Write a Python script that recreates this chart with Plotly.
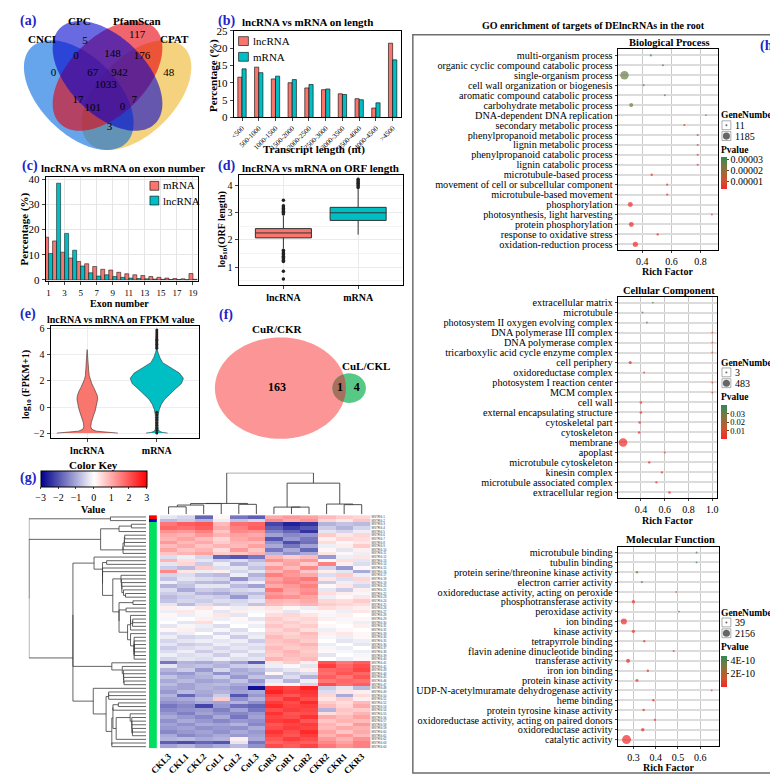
import numpy as np
import plotly.graph_objects as go

W, H = 778, 777
FONT = "Liberation Serif"
SALMON = "#F8766D"
TEAL = "#00BFC4"
LETTER = "#2323C8"

# ---------------- data ----------------
# (a) four-way Venn of coding-potential tools
venn4_sets = ["CNCI", "CPC", "PfamScan", "CPAT"]
venn4_regions = ["CNCI", "CPC", "PfamScan", "CPAT", "CNCI&CPC", "CPC&PfamScan",
                 "PfamScan&CPAT", "CNCI&CPC&PfamScan", "CPC&PfamScan&CPAT", "all",
                 "CNCI&PfamScan", "CPC&CPAT", "CNCI&PfamScan&CPAT", "CNCI&CPC&CPAT", "CNCI&CPAT"]
venn4_counts = [0, 5, 117, 48, 0, 148, 176, 67, 942, 1033, 17, 7, 101, 0, 3]

# (b) transcript length distribution (%)
length_bins = ["<500", "500-1000", "1000-1500", "1500-2000", "2000-2500", "2500-3000",
               "3000-3500", "3500-4000", "4000-4500", ">4500"]
length_lncRNA = [11.6, 14.5, 11.1, 10.0, 8.5, 8.0, 6.8, 5.4, 2.7, 21.4]
length_mRNA = [14.0, 12.9, 11.9, 10.9, 9.5, 8.2, 6.6, 5.1, 4.2, 16.6]

# (c) exon number distribution (%)
exon_numbers = list(range(1, 20))
exon_mRNA = [17.0, 15.5, 11.0, 8.7, 7.3, 6.4, 5.3, 4.2, 3.9, 3.0, 2.4, 2.0, 1.7, 1.3, 1.0, 0.7, 0.5, 0.4, 2.5]
exon_lncRNA = [10.5, 38.5, 18.5, 11.8, 5.5, 2.8, 1.5, 2.0, 1.3, 1.0, 0.7, 0.5, 0.4, 0.3, 0.2, 0.1, 0.1, 0.05, 0.2]

# (d) ORF length (log10) box statistics
orf_groups = ["lncRNA", "mRNA"]
orf_q1 = [2.07, 2.71]
orf_median = [2.25, 2.99]
orf_q3 = [2.41, 3.19]
orf_lower = [1.68, 2.19]
orf_upper = [2.87, 3.86]
orf_outliers_lncRNA = [2.95, 3.0, 3.05, 3.1, 3.15, 3.2, 3.25, 3.45, 1.62, 1.55, 1.5, 1.45,
                       1.4, 1.35, 1.3, 1.25, 1.2, 0.85, 0.56]
orf_outliers_mRNA = [3.92, 3.97, 4.02, 4.07, 4.12, 4.17, 4.22]

# (e) FPKM violins: density profile (level, half width in x units) + inner boxes
fpkm_lnc_levels = [-2.0, -1.95, -1.85, -1.7, -1.5, -1.2, -0.9, -0.6, -0.3, 0.0, 0.3, 0.6,
                   0.9, 1.2, 1.5, 1.8, 2.1, 2.4, 2.7, 3.0, 3.5, 4.0, 4.4]
fpkm_lnc_halfwidth = [0.44, 0.28, 0.128, 0.064, 0.05, 0.057, 0.071, 0.092, 0.113, 0.128, 0.142,
                      0.149, 0.142, 0.121, 0.092, 0.064, 0.043, 0.028, 0.021, 0.017, 0.013, 0.0085, 0.003]
fpkm_mrna_levels = [-2.0, -1.95, -1.85, -1.7, -1.4, -1.0, -0.6, -0.2, 0.2, 0.6, 1.0, 1.4, 1.8,
                    2.2, 2.6, 3.0, 3.4, 3.8, 4.2, 4.5]
fpkm_mrna_halfwidth = [0.156, 0.085, 0.035, 0.021, 0.017, 0.017, 0.021, 0.035, 0.064, 0.113,
                       0.184, 0.27, 0.355, 0.383, 0.326, 0.199, 0.085, 0.043, 0.017, 0.003]
fpkm_q1 = [-1.0, 1.4]
fpkm_median = [0.1, 2.1]
fpkm_q3 = [0.95, 2.6]
fpkm_lower = [-2.0, -0.3]
fpkm_upper = [2.7, 4.4]
fpkm_outliers_mRNA = [4.5, 4.6, 4.7, 4.8, 4.9, 5.0, 5.1, 5.2, 5.3, 5.45, 5.6, 5.75, 5.9,
                      -0.4, -0.6, -0.8, -1.0, -1.2, -1.4, -1.6, -1.8, -2.0]

# (f) two-way Venn
venn2_sets = ["CuR/CKR", "CuL/CKL"]
venn2_counts = [163, 1, 4]

# (g) heatmap of DE lncRNAs (row z-scores)
samples = ["CKL3", "CKL1", "CKL2", "CuL1", "CuL2", "CuL3", "CuR3", "CuR1", "CuR2", "CKR2", "CKR1", "CKR3"]
heat_values = [
    [-0.3, -0.5, -1.8, 0.1, -1.6, -1.9, 1.0, 1.2, 1.1, 0.8, 0.6, 0.5],
    [-0.8, -0.6, -0.9, -0.2, -0.7, -0.5, 1.4, 1.0, 1.3, 0.5, 0.3, 0.7],
    [1.6, 1.9, 2.0, 0.8, 1.7, 1.8, -2.2, -2.6, -2.4, -0.9, -0.7, -0.8],
    [1.8, 1.7, 1.9, 1.0, 1.5, 1.9, -1.9, -2.3, -2.0, -0.6, -0.9, -0.5],
    [1.3, 1.2, 1.5, 0.7, 1.4, 1.3, -1.5, -1.8, -2.4, -0.3, -0.5, -0.2],
    [1.0, 0.9, 1.2, 0.9, 1.1, 1.0, -1.1, -1.4, -1.3, 0.6, 0.3, 0.5],
    [0.9, 1.1, 0.8, 0.5, 1.0, 1.2, -2.0, -1.2, -1.6, 0.2, 0.5, 0.4],
    [1.2, 0.8, 1.0, 0.6, 0.9, 0.8, -1.3, -2.1, -1.7, 0.4, -0.1, 0.3],
    [0.8, 1.0, 0.7, 0.9, 0.8, 1.1, -1.0, -1.6, -1.1, -0.2, 0.2, 0.6],
    [1.1, 0.7, 0.9, 0.4, 1.2, 0.7, -1.6, -1.0, -1.8, 0.1, -0.3, 0.2],
    [0.7, 0.9, 1.1, 0.6, 0.7, 0.9, -0.9, -1.3, -1.0, 0.3, 0.1, -0.2],
    [-0.4, -0.2, -0.5, -1.8, -2.0, -1.6, 0.9, 0.6, 0.8, -1.2, -0.2, 0.3],
    [0.9, 0.4, -0.3, -0.6, -0.4, -0.8, 1.3, 1.0, 1.2, -0.1, 0.4, -0.3],
    [-0.3, 0.5, -0.6, -0.2, -0.9, -0.5, 0.7, 1.1, 0.6, 1.5, 0.2, -0.4],
    [-0.6, -0.8, 0.6, -0.4, -0.3, -0.7, 1.2, 0.8, 1.4, -0.5, -1.2, 0.1],
    [1.4, 0.3, -0.2, 0.2, -0.5, -0.3, 0.9, 1.3, 0.7, 0.2, -0.3, -1.0],
    [-0.5, -0.4, -0.7, -0.8, -0.2, -0.9, 1.5, 1.2, 1.0, -0.4, 0.6, -0.2],
    [-0.7, -0.3, -0.4, -0.5, -1.3, -0.6, 1.1, 1.4, 1.6, 0.3, -0.4, 0.5],
    [-0.2, -0.6, -0.8, -0.9, -0.4, -0.2, 1.3, 1.5, 1.2, -0.6, -0.2, -0.3],
    [-0.9, -0.7, -0.3, -0.3, -0.8, -1.1, 1.0, 1.2, 1.5, 0.1, 0.3, -0.5],
    [-0.4, -1.0, -0.6, -0.7, -0.5, -0.4, 1.6, 1.1, 1.3, -0.3, -0.6, 0.2],
    [-0.6, -0.5, -0.9, -1.0, -0.7, -0.8, 1.2, 1.0, 1.4, 0.4, 0.2, -0.1],
    [-0.8, -0.6, -0.5, -0.6, -1.2, -0.5, 1.4, 1.3, 1.1, -0.2, 0.1, 0.3],
    [-0.7, -0.5, -0.6, -0.4, -0.5, -0.3, 0.9, 0.8, 1.0, 0.5, 0.4, 0.6],
    [-0.3, -0.8, -0.4, -0.6, -0.4, -0.7, 0.8, 0.7, 0.9, 0.6, 0.5, 0.4],
    [0.2, -0.1, 0.3, 0.1, -0.2, 0.2, 0.3, 0.1, -0.2, 0.4, 0.3, 0.2],
    [-0.2, 0.3, 0.1, -0.3, 0.2, -0.1, 0.2, -0.3, 0.1, 0.1, -0.2, 0.3],
    [0.1, -0.2, -0.1, 0.3, -0.3, 0.0, 0.4, 0.5, 0.3, -0.1, 0.2, 0.0],
    [-0.1, 0.0, 0.2, -0.2, 0.1, -0.3, 0.6, 0.4, 0.5, 0.2, -0.1, 0.1],
    [0.0, -0.3, 0.4, 0.0, -0.1, 0.1, 0.5, 0.6, 0.4, 0.0, 0.1, -0.2],
    [-0.3, -0.1, -0.2, -0.4, 0.0, -0.2, 0.7, 0.5, 0.6, 0.1, 0.0, 0.2],
    [0.1, 0.2, -0.3, -0.1, -0.4, 0.0, 0.5, 0.7, 0.4, -0.2, 0.1, 0.0],
    [-0.4, -0.2, 0.0, -0.5, -0.2, -0.3, 0.6, 0.5, 0.8, 0.2, 0.3, 0.1],
    [-0.2, -0.5, -0.4, -0.1, -0.6, -0.2, 0.8, 0.6, 0.7, -0.1, -0.2, 0.1],
    [-0.5, -0.3, -0.2, -0.3, -0.2, -0.6, 0.7, 0.8, 0.6, 0.0, -0.3, -0.2],
    [-0.3, -0.6, -0.5, -0.2, -0.4, -0.3, 0.6, 0.7, 0.9, -0.2, 0.0, -0.3],
    [-0.6, -0.4, -0.3, -0.5, -0.3, -0.4, 0.8, 0.6, 0.7, -0.1, -0.2, 0.0],
    [-0.4, -0.2, -0.6, -0.3, -0.5, -0.2, 0.7, 0.9, 0.6, 0.1, -0.1, -0.2],
    [-0.2, -0.4, -0.3, -0.6, -0.2, -0.5, 0.6, 0.8, 0.7, -0.3, 0.0, -0.1],
    [-0.5, -0.3, -0.4, -0.2, -0.4, -0.3, 0.9, 0.7, 0.8, 0.0, -0.2, 0.1],
    [-1.6, -0.9, -1.0, -0.8, -1.1, -1.9, 0.3, 0.6, 0.2, 2.0, 1.6, 1.9],
    [-0.3, -0.8, -0.7, -0.9, -0.6, -0.5, -0.2, 0.1, -0.3, 2.3, 1.8, 2.1],
    [-0.9, -0.6, -1.2, -0.5, -1.0, -0.8, -0.5, -0.3, 0.2, 1.8, 1.9, 2.2],
    [-1.1, -1.2, -0.8, -1.3, -0.9, -1.0, 0.1, -0.6, -0.4, 1.7, 2.0, 1.8],
    [-0.7, -1.0, -0.9, -0.6, -1.2, -0.7, -0.8, -0.4, -0.9, 1.9, 1.6, 2.0],
    [-1.0, -0.8, -1.1, -1.0, -0.7, -1.2, -0.3, -0.9, -0.2, 1.6, 1.8, 1.7],
    [-0.8, -1.1, -0.9, -0.8, -1.0, -0.9, 0.2, -0.1, -0.5, 2.1, 1.7, 1.9],
    [-1.0, -1.1, -0.9, -1.0, -1.2, -2.8, 2.4, 2.2, 2.6, -0.6, -0.3, -0.8],
    [-1.2, -0.8, -1.0, -0.9, -1.1, -1.0, 2.6, 2.3, 2.4, -0.4, 0.3, 0.2],
    [-0.9, -1.8, -1.1, -0.6, -2.0, -1.2, 2.2, 2.0, 2.3, 0.5, -1.0, 0.4],
    [-1.1, -1.0, -0.8, 0.6, -1.3, -0.9, 2.0, 2.4, 2.1, 0.3, 0.6, 0.2],
    [-1.3, -1.2, -1.0, -1.1, -0.9, -1.3, 2.3, 2.1, 2.5, 0.6, 0.4, 0.8],
    [-1.6, -1.4, -2.2, -1.2, -1.7, -1.8, 2.5, 2.2, 2.3, 0.8, 0.5, 1.0],
    [-1.4, -1.3, -1.2, -1.5, -1.1, -1.6, 2.1, 2.3, 2.2, -0.9, 0.7, 0.6],
    [-1.2, -1.5, -1.1, -1.3, -1.4, -1.2, 2.4, 2.0, 2.1, 0.4, 0.6, 0.9],
    [-1.0, -1.2, -1.4, -1.0, -1.6, -1.1, 2.2, 2.1, 2.4, 1.0, 0.8, 1.1],
    [-1.3, -1.0, -1.2, -1.4, -1.2, -1.3, 2.3, 2.4, 2.0, 0.7, 0.9, 0.8],
    [-1.1, -1.3, -1.0, -1.1, -0.9, -1.4, 2.0, 2.2, 2.3, 0.9, 0.6, 1.2],
    [-1.2, -1.1, -1.3, -1.2, -1.3, -1.0, 2.1, 2.3, 2.2, 0.8, 1.0, 0.9],
    [-1.4, -1.2, -1.1, -1.3, -1.0, -1.2, 2.4, 2.1, 2.5, 1.1, 0.7, 1.0],
    [-1.0, -1.4, -1.2, -1.0, -1.2, -1.1, 2.2, 2.0, 2.3, 0.9, 1.2, 0.8],
    [-0.9, -0.8, -1.0, -0.9, 0.2, -1.0, 2.0, 2.3, 2.1, 1.2, 0.9, 1.3],
    [-1.9, -2.1, -1.8, -2.0, -0.3, -1.6, 1.8, 2.0, 1.9, 1.4, 1.1, 1.5],
    [-1.1, -0.9, -1.2, -1.0, -0.8, -1.3, 2.1, 1.9, 2.2, 1.6, 1.3, 1.5],
]
row_groups = [0, 1] + [2] * 9 + [3] * 53
row_ids = ["MSTRG.%d" % (i + 1) for i in range(len(heat_values))]

# (h) GO enrichment
bp_terms = ["multi-organism process", "organic cyclic compound catabolic process", "single-organism process",
            "cell wall organization or biogenesis", "aromatic compound catabolic process",
            "carbohydrate metabolic process", "DNA-dependent DNA replication", "secondary metabolic process",
            "phenylpropanoid metabolic process", "lignin metabolic process", "phenylpropanoid catabolic process",
            "lignin catabolic process", "microtubule-based process", "movement of cell or subcellular component",
            "microtubule-based movement", "phosphorylation", "photosynthesis, light harvesting",
            "protein phosphorylation", "response to oxidative stress", "oxidation-reduction process"]
bp_rich = [0.459, 0.542, 0.278, 0.409, 0.555, 0.324, 0.837, 0.689, 0.78, 0.78, 0.78, 0.78, 0.465,
           0.571, 0.571, 0.318, 0.878, 0.325, 0.506, 0.353]
bp_genes = [30, 25, 1185, 45, 22, 230, 15, 35, 20, 20, 20, 20, 55, 40, 40, 375, 11, 360, 60, 420]
bp_pvalue = [3.1e-5, 2.8e-5, 2.5e-5, 2.4e-5, 2.9e-5, 2.4e-5, 2.7e-5, 4e-6, 3e-6, 3e-6, 3e-6, 3e-6,
             5e-6, 4e-6, 4e-6, 2.5e-6, 3e-6, 2.5e-6, 5e-6, 2.3e-6]

cc_terms = ["extracellular matrix", "microtubule", "photosystem II oxygen evolving complex",
            "DNA polymerase III complex", "DNA polymerase complex", "tricarboxylic acid cycle enzyme complex",
            "cell periphery", "oxidoreductase complex", "photosystem I reaction center", "MCM complex",
            "cell wall", "external encapsulating structure", "cytoskeletal part", "cytoskeleton", "membrane",
            "apoplast", "microtubule cytoskeleton", "kinesin complex", "microtubule associated complex",
            "extracellular region"]
cc_rich = [0.50, 0.413, 0.45, 1.0, 1.0, 1.0, 0.31, 0.427, 1.0, 1.0, 0.40, 0.40, 0.39, 0.385, 0.25,
           0.60, 0.47, 0.576, 0.53, 0.64]
cc_genes = [5, 8, 6, 3, 3, 3, 45, 8, 3, 3, 30, 30, 28, 30, 483, 10, 20, 15, 18, 22]
cc_pvalue = [0.036, 0.028, 0.03, 0.004, 0.004, 0.01, 0.002, 0.012, 0.005, 0.005, 0.003, 0.003, 0.002,
             0.002, 0.001, 0.006, 0.002, 0.002, 0.002, 0.002]

mf_terms = ["microtubule binding", "tubulin binding", "protein serine/threonine kinase activity",
            "electron carrier activity", "oxidoreductase activity, acting on peroxide",
            "phosphotransferase activity", "peroxidase activity", "ion binding", "kinase activity",
            "tetrapyrrole binding", "flavin adenine dinucleotide binding", "transferase activity",
            "iron ion binding", "protein kinase activity", "UDP-N-acetylmuramate dehydrogenase activity",
            "heme binding", "protein tyrosine kinase activity", "oxidoreductase activity, acting on paired donors",
            "oxidoreductase activity", "catalytic activity"]
mf_rich = [0.584, 0.584, 0.316, 0.338, 0.493, 0.30, 0.505, 0.257, 0.30, 0.349, 0.481, 0.276, 0.365,
           0.316, 0.652, 0.39, 0.346, 0.397, 0.342, 0.269]
mf_genes = [45, 45, 110, 90, 39, 270, 45, 950, 250, 100, 50, 400, 110, 190, 39, 110, 120, 90, 300, 2156]
mf_pvalue = [4.5e-10, 4.5e-10, 3.3e-10, 3.5e-10, 1.8e-10, 0.3e-10, 1.0e-10, 0.05e-10, 0.2e-10, 0.3e-10,
             0.8e-10, 0.1e-10, 0.4e-10, 0.3e-10, 0.5e-10, 0.4e-10, 0.5e-10, 0.4e-10, 0.2e-10, 0.01e-10]

# ---------------- layout geometry (pixels: x0, x1, top, bottom) ----------------
GEO = {
    "b": (218, 388, 17, 105), "c": (27, 182, 166, 271), "d": (223, 390, 164, 275),
    "e": (32, 183, 317, 431), "heat": (143, 357, 509, 746), "side": (132, 140, 509, 746),
    "rdend": (10, 129, 509, 746), "cdend": (143, 357, 466, 508),
    "bp": (608, 710, 36, 240), "cc": (608, 709, 287, 492), "mf": (608, 711, 541, 743),
}


def dom(k):
    x0, x1, t, b = GEO[k]
    return [x0 / W, x1 / W], [1 - b / H, 1 - t / H]


annotations, shapes = [], []


def label(x, y, s, size=10, bold=False, color="black", xanchor="center", angle=0):
    annotations.append(dict(xref="paper", yref="paper", x=x / W, y=1 - y / H,
                            text=f"<b>{s}</b>" if bold else s, showarrow=False,
                            font=dict(family=FONT, size=size, color=color),
                            xanchor=xanchor, yanchor="middle", textangle=angle, borderpad=0))


def rect_px(x0, y0, x1, y1, **kw):
    shapes.append(dict(type="rect", xref="paper", yref="paper", x0=x0 / W, x1=x1 / W,
                       y0=1 - y1 / H, y1=1 - y0 / H, **kw))


def circle_px(cx, cy, r, **kw):
    shapes.append(dict(type="circle", xref="paper", yref="paper", x0=(cx - r) / W, x1=(cx + r) / W,
                       y0=1 - (cy + r) / H, y1=1 - (cy - r) / H, **kw))


def ellipse_pts(cx, cy, a, b, ang, n=160):
    t = np.linspace(0, 2 * np.pi, n)
    r = np.deg2rad(ang)
    x = cx + a * np.cos(t) * np.cos(r) - b * np.sin(t) * np.sin(r)
    y = cy + a * np.cos(t) * np.sin(r) + b * np.sin(t) * np.cos(r)
    return x, y


def path_of(x, y):
    return "M " + " L ".join(f"{a:.2f},{b:.2f}" for a, b in zip(x, y)) + " Z"


fig = go.Figure()
TF = dict(family=FONT, size=10, color="black")
lay = dict(width=W, height=H, autosize=False, margin=dict(l=0, r=0, t=0, b=0),
           paper_bgcolor="white", plot_bgcolor="rgba(0,0,0,0)", showlegend=False,
           barmode="overlay", boxmode="overlay", font=dict(family=FONT, color="black"))

# pixel overlay axis for the Venn diagrams
lay["xaxis"] = dict(domain=[0, 1], range=[0, W], visible=False, fixedrange=True)
lay["yaxis"] = dict(domain=[0, 1], range=[H, 0], visible=False, fixedrange=True)

# ---------------- (a) Venn4 ----------------
venn4_geom = {"CNCI": (60.7, 82.4, 45), "CPC": (89.9, 62.9, 45),
              "PfamScan": (89.9, 62.9, -45), "CPAT": (119.3, 82.4, -45)}
venn4_fill = {"CNCI": "rgb(0,105,222)", "CPC": "rgb(5,5,205)",
              "PfamScan": "rgb(230,0,10)", "CPAT": "rgb(238,180,38)"}
for s in ["CPAT", "CNCI", "PfamScan", "CPC"]:
    cx, cy, ang = venn4_geom[s]
    ex, ey = ellipse_pts(cx, cy, 68.4, 39.1, ang)
    shapes.append(dict(type="path", xref="x", yref="y", path=path_of(ex, ey),
                       fillcolor=venn4_fill[s], opacity=0.6, line=dict(width=0), layer="below"))
venn4_count_pos = [(35, 60), (67, 28), (120, 21.5), (152, 60), (58, 43), (95, 41), (125, 43), (75, 60),
                   (102, 60), (88, 72), (60, 88), (117, 88), (75, 96), (105, 95), (92, 115)]
fig.add_trace(go.Scatter(x=[p[0] for p in venn4_count_pos], y=[p[1] for p in venn4_count_pos],
                         text=[str(c) for c in venn4_counts], mode="text", xaxis="x", yaxis="y",
                         textfont=dict(family=FONT, size=11, color="black"), hoverinfo="skip"))
for s, (x, y) in zip(venn4_sets, [(23, 25), (61, 7), (120, 7), (158, 25)]):
    label(x, y, s, size=11, bold=True)

# ---------------- (b) length bars ----------------
xd, yd = dom("b")
lay["xaxis2"] = dict(domain=xd, anchor="y2", type="category", range=[-0.5, 9.5], showline=True,
                     linecolor="black", mirror=True, ticks="outside", ticklen=3, tickangle=-45,
                     tickfont=dict(family=FONT, size=7, color="black"), showgrid=False)
lay["yaxis2"] = dict(domain=yd, anchor="x2", range=[0, 25], dtick=5, showline=True, linecolor="black",
                     mirror=True, ticks="outside", ticklen=3, tickfont=dict(family=FONT, size=11),
                     showgrid=False, zeroline=False)
fig.add_trace(go.Bar(x=length_bins, y=length_lncRNA, width=0.25, offset=-0.25, marker=dict(
    color=SALMON, line=dict(color="black", width=0.6)), xaxis="x2", yaxis="y2", name="lncRNA"))
fig.add_trace(go.Bar(x=length_bins, y=length_mRNA, width=0.25, offset=0.0, marker=dict(
    color=TEAL, line=dict(color="black", width=0.6)), xaxis="x2", yaxis="y2", name="mRNA"))
rect_px(223, 23, 233, 32, fillcolor=SALMON, line=dict(color="black", width=0.6))
rect_px(223, 39, 233, 48, fillcolor=TEAL, line=dict(color="black", width=0.6))
label(237, 27.5, "lncRNA", size=11, xanchor="left")
label(237, 43.5, "mRNA", size=11, xanchor="left")
label(293, 8, "lncRNA vs mRNA on length", size=11, bold=True)
label(197, 62, "Percentage (%)", size=11, bold=True, angle=-90)
label(300, 138, "Transcript length (nt)", size=11, bold=True)

# ---------------- (c) exon bars ----------------
xd, yd = dom("c")
lay["xaxis3"] = dict(domain=xd, anchor="y3", range=[0.63, 19.65], tickvals=list(range(1, 20, 2)),
                     showline=True, linecolor="black", mirror=True, ticks="outside", ticklen=3,
                     tickfont=dict(family=FONT, size=9), showgrid=True, gridcolor="#e6e6e6", zeroline=False)
lay["yaxis3"] = dict(domain=yd, anchor="x3", range=[-0.4, 40.8], tickvals=[0, 10, 20, 30, 40],
                     showline=True, linecolor="black", mirror=True, ticks="outside", ticklen=3,
                     tickfont=dict(family=FONT, size=11), showgrid=True, gridcolor="#e6e6e6", zeroline=False)
fig.add_trace(go.Bar(x=exon_numbers, y=exon_mRNA, width=0.5, offset=-0.5, marker=dict(
    color=SALMON, line=dict(color="black", width=0.5)), xaxis="x3", yaxis="y3", name="mRNA"))
fig.add_trace(go.Bar(x=exon_numbers, y=exon_lncRNA, width=0.5, offset=0.0, marker=dict(
    color=TEAL, line=dict(color="black", width=0.5)), xaxis="x3", yaxis="y3", name="lncRNA"))
rect_px(133, 170, 142, 179, fillcolor=SALMON, line=dict(color="black", width=0.6))
rect_px(133, 185, 142, 194, fillcolor=TEAL, line=dict(color="black", width=0.6))
label(145, 174, "mRNA", size=11, xanchor="left")
label(145, 189.5, "lncRNA", size=11, xanchor="left")
label(106, 156, "lncRNA vs mRNA on exon number", size=11, bold=True)
label(6, 218, "Percentage (%)", size=11, bold=True, angle=-90)
label(102, 294, "Exon number", size=10, bold=True)

# ---------------- (d) ORF boxplots ----------------
xd, yd = dom("d")
lay["xaxis4"] = dict(domain=xd, anchor="y4", type="category", range=[-0.6, 1.6], showline=True,
                     linecolor="black", mirror=True, ticks="outside", ticklen=3,
                     tickvals=orf_groups, ticktext=[f"<b>{g}</b>" for g in orf_groups],
                     tickfont=dict(family=FONT, size=10), showgrid=True, gridcolor="#ebebeb")
lay["yaxis4"] = dict(domain=yd, anchor="x4", range=[0.35, 4.36], tickvals=[1, 2, 3, 4], showline=True,
                     linecolor="black", mirror=True, ticks="outside", ticklen=3,
                     tickfont=dict(family=FONT, size=10), showgrid=True, gridcolor="#ebebeb",
                     minor=dict(showgrid=True, gridcolor="#f4f4f4", dtick=0.5), zeroline=False)
for i, (g, col) in enumerate(zip(orf_groups, [SALMON, TEAL])):
    fig.add_trace(go.Box(x=[g], q1=[orf_q1[i]], median=[orf_median[i]], q3=[orf_q3[i]],
                         lowerfence=[orf_lower[i]], upperfence=[orf_upper[i]], width=0.75,
                         fillcolor=col, line=dict(color="#333333", width=1), whiskerwidth=0,
                         boxpoints=False, xaxis="x4", yaxis="y4", hoverinfo="skip"))
fig.add_trace(go.Scatter(x=["lncRNA"] * len(orf_outliers_lncRNA) + ["mRNA"] * len(orf_outliers_mRNA),
                         y=orf_outliers_lncRNA + orf_outliers_mRNA, mode="markers",
                         marker=dict(color="#222222", size=3.5), xaxis="x4", yaxis="y4", hoverinfo="skip"))
label(306, 156, "lncRNA vs mRNA on ORF length", size=11, bold=True)
label(207, 219, "log<sub>10</sub>(ORF length)", size=10, bold=True, angle=-90)

# ---------------- (e) FPKM violins ----------------
xd, yd = dom("e")
lay["xaxis5"] = dict(domain=xd, anchor="y5", range=[0.47, 2.61], tickvals=[1, 2],
                     ticktext=["<b>lncRNA</b>", "<b>mRNA</b>"], showline=True, linecolor="black", mirror=True,
                     ticks="outside", ticklen=3, tickfont=dict(family=FONT, size=10), showgrid=True,
                     gridcolor="#ededed", zeroline=False)
lay["yaxis5"] = dict(domain=yd, anchor="x5", range=[-2.4, 6.2], tickvals=[-2, 0, 2, 4, 6], showline=True,
                     linecolor="black", mirror=True, ticks="outside", ticklen=3,
                     tickfont=dict(family=FONT, size=10), showgrid=True, gridcolor="#ededed", zeroline=False)
for center, lv, hw, col in [(1, fpkm_lnc_levels, fpkm_lnc_halfwidth, SALMON),
                            (2, fpkm_mrna_levels, fpkm_mrna_halfwidth, TEAL)]:
    lv = np.asarray(lv, float)
    hw = np.asarray(hw, float)
    vx = np.concatenate([center + hw, (center - hw)[::-1]])
    vy = np.concatenate([lv, lv[::-1]])
    fig.add_trace(go.Scatter(x=vx.tolist(), y=vy.tolist(), mode="lines", fill="toself", fillcolor=col,
                             line=dict(color="#333333", width=0.6), xaxis="x5", yaxis="y5", hoverinfo="skip"))
for i in range(2):
    fig.add_trace(go.Box(x=[i + 1], q1=[fpkm_q1[i]], median=[fpkm_median[i]], q3=[fpkm_q3[i]],
                         lowerfence=[fpkm_lower[i]], upperfence=[fpkm_upper[i]], width=0.08,
                         fillcolor="rgba(0,0,0,0)", line=dict(color="#222222", width=0.8), whiskerwidth=0,
                         boxpoints=False, xaxis="x5", yaxis="y5", hoverinfo="skip"))
fig.add_trace(go.Scatter(x=[2] * len(fpkm_outliers_mRNA), y=fpkm_outliers_mRNA, mode="markers",
                         marker=dict(color="#222222", size=3), xaxis="x5", yaxis="y5", hoverinfo="skip"))
label(104, 310, "lncRNA vs mRNA on FPKM value", size=10, bold=True)
label(7, 376, "log<sub>10</sub> (FPKM+1)", size=10, bold=True, angle=-90)

# ---------------- (f) Venn2 ----------------
pink_x, pink_y = ellipse_pts(265.5, 380, 66.5, 51.5, 0, 200)
green_x, green_y = ellipse_pts(335.3, 380, 17, 15, 0, 120)
shapes.append(dict(type="path", xref="x", yref="y", path=path_of(pink_x, pink_y),
                   fillcolor="rgb(252,150,150)", line=dict(width=0), layer="below"))
shapes.append(dict(type="path", xref="x", yref="y", path=path_of(green_x, green_y),
                   fillcolor="rgb(88,200,135)", line=dict(width=0), layer="below"))
in_pink = ((green_x - 265.5) / 66.5) ** 2 + ((green_y - 380) / 51.5) ** 2 <= 1
in_green = ((pink_x - 335.3) / 17) ** 2 + ((pink_y - 380) / 15) ** 2 <= 1
lx = np.concatenate([green_x[in_pink], pink_x[in_green]])
ly = np.concatenate([green_y[in_pink], pink_y[in_green]])
ang = np.arctan2(ly - ly.mean(), lx - lx.mean())
order = np.argsort(ang)
shapes.append(dict(type="path", xref="x", yref="y", path=path_of(lx[order], ly[order]),
                   fillcolor="rgb(165,112,92)", line=dict(width=0), layer="below"))
fig.add_trace(go.Scatter(x=[262, 326, 343], y=[380, 380, 380], text=[str(c) for c in venn2_counts],
                         mode="text", textfont=dict(family=FONT, size=12, color="black"),
                         texttemplate="<b>%{text}</b>", xaxis="x", yaxis="y", hoverinfo="skip"))
label(263, 320, venn2_sets[0], size=11, bold=True)
label(352, 358, venn2_sets[1], size=11, bold=True)


# ---------------- (g) heatmap + dendrograms ----------------
def seq_linkage(M):
    M = np.asarray(M, float)
    clusters = [[i] for i in range(len(M))]
    pos = [float(i) for i in range(len(M))]
    hts = [0.0] * len(M)
    lines = []
    while len(clusters) > 1:
        dists = []
        for k in range(len(clusters) - 1):
            a, b = M[clusters[k]], M[clusters[k + 1]]
            dists.append(np.sqrt(((a[:, None, :] - b[None, :, :]) ** 2).sum(-1)).mean())
        k = int(np.argmin(dists))
        h = max(dists[k], hts[k], hts[k + 1])
        lines.append(([hts[k], h, h, hts[k + 1]], [pos[k], pos[k], pos[k + 1], pos[k + 1]]))
        clusters[k:k + 2] = [clusters[k] + clusters[k + 1]]
        pos[k:k + 2] = [(pos[k] + pos[k + 1]) / 2]
        hts[k:k + 2] = [h]
    return lines, hts[0]


Z = np.array(heat_values)
n_rows = len(heat_values)
xd, yd = dom("heat")
lay["xaxis6"] = dict(domain=xd, anchor="y6", range=[-0.5, 11.5], tickvals=list(range(12)),
                     ticktext=[f"<b>{s}</b>" for s in samples], tickangle=-45,
                     tickfont=dict(family=FONT, size=9), showgrid=False, zeroline=False, ticks="")
lay["yaxis6"] = dict(domain=yd, anchor="x6", range=[n_rows - 0.5, -0.5], side="right",
                     tickvals=list(range(n_rows)), ticktext=row_ids,
                     tickfont=dict(family="Liberation Sans", size=3, color="#444444"),
                     showgrid=False, zeroline=False, ticks="")
fig.add_trace(go.Heatmap(z=heat_values, x=list(range(12)), y=list(range(n_rows)), xaxis="x6", yaxis="y6",
                         colorscale=[[0, "#00008B"], [0.5, "#FFFFFF"], [1, "#FF0000"]], zmin=-3, zmax=3,
                         hoverinfo="skip", showscale=True,
                         colorbar=dict(orientation="h", x=22 / W, xanchor="left", y=1 - 464 / H, yanchor="top",
                                       len=106, lenmode="pixels", thickness=16, thicknessmode="pixels",
                                       outlinecolor="black", outlinewidth=1, xpad=0, ypad=0,
                                       tickvals=[-3, -2, -1, 0, 1, 2, 3], ticks="outside", ticklen=2,
                                       tickfont=dict(family=FONT, size=10))))
label(75.5, 458, "Color Key", size=11, bold=True)
label(75.5, 503, "Value", size=10, bold=True)

xd, yd = dom("side")
lay["xaxis7"] = dict(domain=xd, anchor="y7", range=[-0.5, 0.5], visible=False)
lay["yaxis7"] = dict(domain=yd, anchor="x7", range=[n_rows - 0.5, -0.5], visible=False)
fig.add_trace(go.Heatmap(z=[[g] for g in row_groups], x=[0], y=list(range(n_rows)), xaxis="x7", yaxis="y7",
                         zmin=0, zmax=3, showscale=False, hoverinfo="skip",
                         colorscale=[[0, "#FF0000"], [0.125, "#FF0000"], [0.125, "#0000C8"], [0.375, "#0000C8"],
                                     [0.375, "#00B0F0"], [0.625, "#00B0F0"], [0.625, "#00E060"], [1, "#00E060"]]))

row_lines, row_root = seq_linkage(Z)
col_lines, col_root = seq_linkage(Z.T)
rx, ry = [], []
for hs, ps in row_lines:
    rx += hs + [None]
    ry += ps + [None]
xd, yd = dom("rdend")
lay["xaxis8"] = dict(domain=xd, anchor="y8", range=[row_root, 0], visible=False)
lay["yaxis8"] = dict(domain=yd, anchor="x8", range=[n_rows - 0.5, -0.5], visible=False)
fig.add_trace(go.Scatter(x=rx, y=ry, mode="lines", line=dict(color="#3c3c3c", width=0.8),
                         xaxis="x8", yaxis="y8", hoverinfo="skip"))
cx_, cy_ = [], []
for hs, ps in col_lines:
    cx_ += ps + [None]
    cy_ += hs + [None]
xd, yd = dom("cdend")
lay["xaxis9"] = dict(domain=xd, anchor="y9", range=[-0.5, 11.5], visible=False)
lay["yaxis9"] = dict(domain=yd, anchor="x9", range=[0, col_root], visible=False)
fig.add_trace(go.Scatter(x=cx_, y=cy_, mode="lines", line=dict(color="#3c3c3c", width=0.9),
                         xaxis="x9", yaxis="y9", hoverinfo="skip"))

# ---------------- (h) GO dot plots ----------------
GO_SCALE = [[0, "rgb(240,40,40)"], [0.25, "rgb(212,78,44)"], [0.5, "rgb(165,102,52)"],
            [0.75, "rgb(110,122,70)"], [1, "rgb(46,139,87)"]]


def dot_sizes(n, dmin, dmax):
    n = np.asarray(n, float)
    f = (n - n.min()) / (n.max() - n.min())
    return np.sqrt(dmin ** 2 + f * (dmax ** 2 - dmin ** 2)).tolist()


panels = [
    ("bp", "10", bp_terms, bp_rich, bp_genes, bp_pvalue, [0.231, 0.92], [0.4, 0.6, 0.8], 2.2e-6, 3.22e-5,
     [1e-5, 2e-5, 3e-5], ["0.00001", "0.00002", "0.00003"], 162, 32, "Biological Process", 29, 262,
     103, ["11", "1185"], 8.5, 10),
    ("cc", "11", cc_terms, cc_rich, cc_genes, cc_pvalue, [0.204, 1.04], [0.4, 0.6, 0.8, 1.0], 0.001, 0.041,
     [0.01, 0.02, 0.03], ["0.01", "0.02", "0.03"], 414, 34, "Cellular Component", 281, 514,
     354, ["3", "483"], 8.5, 8.5),
    ("mf", "12", mf_terms, mf_rich, mf_genes, mf_pvalue, [0.229, 0.685], [0.3, 0.4, 0.5, 0.6], 0.0, 4.75e-10,
     [2e-10, 4e-10], ["2E-10", "4E-10"], 667.5, 31, "Molecular Function", 534, 765,
     608, ["39", "2156"], 9.0, 10),
]
for (key, ax, terms, rich, genes, pv, xr, xt, cmin, cmax, cbv, cbt, cby, cbl, title, ty, rfy,
     gy, glab, dmax, cbfs) in panels:
    xd, yd = dom(key)
    lay["xaxis" + ax] = dict(domain=xd, anchor="y" + ax, range=xr, tickvals=xt, tickformat=".1f",
                             showline=True, linecolor="black", mirror=True, linewidth=1, ticks="outside",
                             ticklen=2, tickfont=TF, showgrid=True, gridcolor="#c8c8c8", zeroline=False)
    lay["yaxis" + ax] = dict(domain=yd, anchor="x" + ax, type="category", categoryorder="array",
                             categoryarray=terms, tickmode="array", tickvals=terms, ticktext=terms,
                             range=[len(terms) - 0.4, -0.6], showline=True,
                             linecolor="black", mirror=True, linewidth=1, ticks="outside", ticklen=2,
                             tickfont=dict(family=FONT, size=10.2, color="black"), showgrid=True,
                             gridcolor="#dcdcdc", gridwidth=1.5)
    fig.add_trace(go.Scatter(
        x=rich, y=terms, mode="markers", xaxis="x" + ax, yaxis="y" + ax, hoverinfo="skip",
        marker=dict(size=dot_sizes(genes, 1.8, dmax), color=pv, colorscale=GO_SCALE, cmin=cmin, cmax=cmax,
                    line=dict(width=0), showscale=True,
                    colorbar=dict(x=713 / W, xanchor="left", y=1 - cby / H, yanchor="middle", len=cbl,
                                  lenmode="pixels", thickness=6, thicknessmode="pixels", outlinewidth=0,
                                  xpad=0, ypad=0, tickvals=cbv, ticktext=cbt, ticks="outside", ticklen=2,
                                  tickfont=dict(family=FONT, size=cbfs)))))
    x0, x1 = GEO[key][0], GEO[key][1]
    label((x0 + x1) / 2 + 2, ty, title, size=10.5, bold=True)
    label((x0 + x1) / 2, rfy, "Rich Factor", size=10, bold=True)
    # GeneNumber size legend
    label(712, gy, "GeneNumber", size=9.5, bold=True, xanchor="left")
    for j, (yy, rr) in enumerate([(gy + 10, 1.0), (gy + 21, 3.6)]):
        rect_px(714, yy - 4.5, 723, yy + 4.5, fillcolor="white", line=dict(color="#888888", width=0.7))
        circle_px(718.5, yy, rr, fillcolor="#666666", line=dict(width=0))
        label(726, yy, glab[j], size=10, xanchor="left")
    label(712, gy + 35, "Pvalue", size=9.5, bold=True, xanchor="left")

label(584, 12, "GO enrichment of targets of DElncRNAs in the root", size=10, bold=True)
rect_px(400, 21, 776, 771, line=dict(color="#6e6e6e", width=1.5), fillcolor="rgba(0,0,0,0)")

# panel letters
for s, (x, y) in zip(["(a)", "(b)", "(c)", "(d)", "(e)", "(f)", "(g)", "(h)"],
                     [(10, 7), (211, 7), (11, 154), (211, 154), (9, 305), (210, 306), (10, 471), (761, 32)]):
    label(x, y, s, size=14, bold=True, color=LETTER)

lay["annotations"] = annotations
lay["shapes"] = shapes
fig.update_layout(**lay)
fig.write_html("out.html")
